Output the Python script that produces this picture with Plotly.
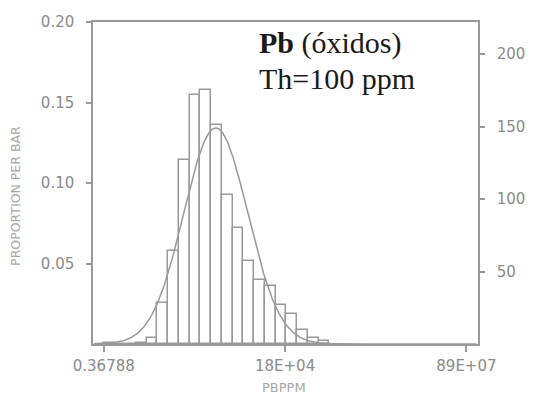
import numpy as np
import plotly.graph_objects as go

# Histogram of ln(PBPPM): bins of equal width starting at ln = -1
bin_start = -1.0
bin_width = 0.64
counts = [1, 0, 0, 1, 4, 28, 64, 127, 172, 175, 151, 103, 80, 57, 44, 40, 27, 21, 10, 4, 2]

# Axis tick positions (ln units) and their labels
x_tick_vals = [-1.0, 9.8, 20.6]
x_tick_text = ["0.36788", "18E+04", "89E+07"]
y_tick_vals = [0.05, 0.10, 0.15, 0.20]
y_tick_text = ["0.05", "0.10", "0.15", "0.20"]
y2_tick_vals = [50, 100, 150, 200]

title_main = "<b>Pb</b> (óxidos)"
title_sub = "Th=100 ppm"

GRAY = "#999999"
TICK_GRAY = "#8a8a8a"
TITLE_GRAY = "#a8a8a8"

counts = np.array(counts, dtype=float)
n_total = counts.sum()
centers = bin_start + bin_width * (np.arange(len(counts)) + 0.5)
props = counts / n_total

# Normal curve fitted to the binned sample, scaled to proportion per bar
mu = float(np.sum(counts * centers) / n_total)
sd = float(np.sqrt(np.sum(counts * (centers - mu) ** 2) / n_total))
xc = np.linspace(-1.6, 21.2, 600)
yc = bin_width * np.exp(-0.5 * ((xc - mu) / sd) ** 2) / (sd * np.sqrt(2 * np.pi))

y_top = 0.20
x_range = [-1.64, 21.29]

fig = go.Figure()
fig.add_trace(go.Bar(
    x=centers, y=props, width=bin_width,
    marker=dict(color="rgba(255,255,255,0)", line=dict(color=GRAY, width=1.5)),
    hoverinfo="skip", showlegend=False,
))
fig.add_trace(go.Scatter(
    x=xc, y=yc, mode="lines", line=dict(color=GRAY, width=1.5),
    hoverinfo="skip", showlegend=False,
))
# count axis on the right shares the same bars
fig.add_trace(go.Scatter(
    x=[centers[0]], y=[0], yaxis="y2", mode="markers",
    marker=dict(opacity=0), hoverinfo="skip", showlegend=False,
))

tick_font = dict(family="DejaVu Sans", size=15, color=TICK_GRAY)

fig.update_layout(
    width=537, height=396,
    margin=dict(l=93, r=50, t=22, b=52),
    paper_bgcolor="white", plot_bgcolor="white",
    bargap=0,
    xaxis=dict(
        range=x_range, showgrid=False, zeroline=False,
        showline=True, linecolor=GRAY, linewidth=1.5, mirror=True,
        ticks="outside", ticklen=6, tickcolor=GRAY, tickwidth=1.5,
        tickvals=x_tick_vals, ticktext=x_tick_text, tickfont=tick_font,
        ticklabelstandoff=1,
    ),
    yaxis=dict(
        range=[0, y_top], showgrid=False, zeroline=False,
        showline=True, linecolor=GRAY, linewidth=1.5,
        ticks="outside", ticklen=5, tickcolor=GRAY, tickwidth=1.5,
        tickvals=y_tick_vals, ticktext=y_tick_text, tickfont=tick_font,
        ticklabelstandoff=9,
    ),
    yaxis2=dict(
        range=[0, y_top * n_total], overlaying="y", side="right",
        showgrid=False, zeroline=False,
        showline=True, linecolor=GRAY, linewidth=1.5,
        ticks="outside", ticklen=5, tickcolor=GRAY, tickwidth=1.5,
        tickvals=y2_tick_vals, tickfont=tick_font, ticklabelstandoff=9,
    ),
    annotations=[
        dict(text="PROPORTION PER BAR", xref="paper", yref="paper",
             x=-0.2, y=0.46, xanchor="center", yanchor="middle",
             textangle=-90, showarrow=False,
             font=dict(family="DejaVu Sans", size=12.5, color=TITLE_GRAY)),
        dict(text="PBPPM", xref="paper", yref="paper",
             x=0.495, y=-0.134, xanchor="center", yanchor="middle",
             showarrow=False,
             font=dict(family="DejaVu Sans", size=13, color=TITLE_GRAY)),
        dict(text=title_main, xref="paper", yref="paper",
             x=0.425, y=(344 - 43) / 322, xanchor="left", yanchor="middle",
             showarrow=False,
             font=dict(family="Liberation Serif", size=30, color="#1a1a1a")),
        dict(text=title_sub, xref="paper", yref="paper",
             x=0.425, y=(344 - 78) / 322, xanchor="left", yanchor="middle",
             showarrow=False,
             font=dict(family="Liberation Serif", size=30, color="#1a1a1a")),
    ],
)

fig.write_html("out.html")
